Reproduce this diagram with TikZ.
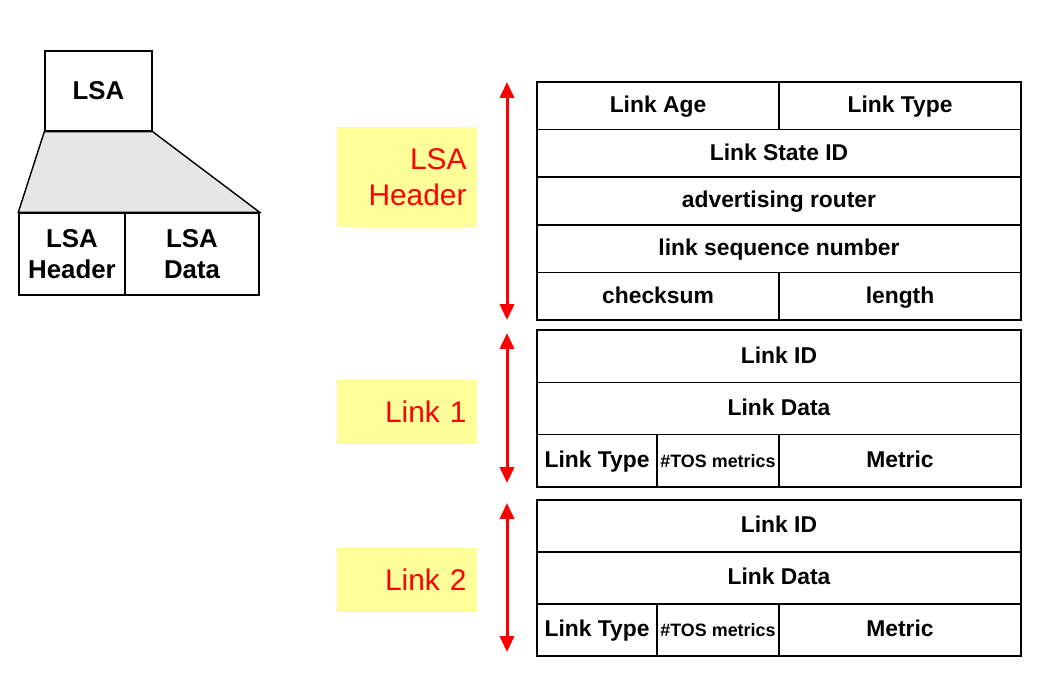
\documentclass[tikz,border=0pt]{standalone}
\usepackage{fontspec}
\setmainfont{Liberation Sans}
\usetikzlibrary{arrows.meta}
\definecolor{lsared}{RGB}{255,0,0}
\definecolor{lsayellow}{RGB}{255,255,153}
\definecolor{lsagray}{RGB}{230,230,230}
\tikzset{
  cell/.style={draw, line width=0.8pt, inner sep=0pt, text height=0.95em, text depth=0.17em, font=\fontsize{13}{15}\selectfont\bfseries},
  bigcell/.style={draw, line width=0.8pt, inner sep=0pt, align=center, font=\fontsize{14.7}{17.6}\selectfont\bfseries},
  tag/.style={fill=lsayellow, text=lsared, align=right, text width=2.38cm, inner xsep=0.21cm, inner ysep=0pt, font=\fontsize{17}{20.5}\selectfont},
  span/.style={draw=lsared, line width=1.7pt, {Triangle[width=8pt,length=9pt]}-{Triangle[width=8pt,length=9pt]}}
}

\begin{document}
\begin{tikzpicture}[x=0.02cm, y=-0.02cm]
  \useasboundingbox (0,0) rectangle (1037,676);

  % LSA split
  \node[bigcell, minimum width=2.14cm, minimum height=1.6cm] (lsa) at (98.5,91) {LSA};
  \node[bigcell, minimum width=2.12cm, minimum height=1.64cm] (lsahdr) at (72,254) {LSA\\Header};
  \node[bigcell, minimum width=2.68cm, minimum height=1.64cm] (lsadata) at (192,254) {LSA\\Data};
  \draw[line width=0.8pt, fill=lsagray] (lsa.south west) -- (lsa.south east)
     -- (lsadata.north east) -- (lsahdr.north west) -- cycle;

  % labels on the left of the table
  \node[tag, minimum height=2.0cm] (taghdr) at (407,177) {LSA\\Header};
  \node[tag, minimum height=1.28cm] (tagone) at (407,412) {Link 1};
  \node[tag, minimum height=1.28cm] (tagtwo) at (407,580) {Link 2};

  % header rows
  \node[cell, minimum width=4.84cm, minimum height=0.952cm] (age) at (658,105.8) {Link Age};
  \node[cell, minimum width=4.84cm, minimum height=0.952cm] (type) at (900,105.8) {Link Type};
  \node[cell, minimum width=9.68cm, minimum height=0.952cm] (lsid) at (779,153.4) {Link State ID};
  \node[cell, minimum width=9.68cm, minimum height=0.952cm] (adv) at (779,201) {advertising router};
  \node[cell, minimum width=9.68cm, minimum height=0.952cm] (seq) at (779,248.6) {link sequence number};
  \node[cell, minimum width=4.84cm, minimum height=0.952cm] (csum) at (658,296.2) {checksum};
  \node[cell, minimum width=4.84cm, minimum height=0.952cm] (len) at (900,296.2) {length};

  % link 1
  \node[cell, minimum width=9.68cm, minimum height=1.047cm] (idone) at (779,356.2) {Link ID};
  \node[cell, minimum width=9.68cm, minimum height=1.047cm] (dataone) at (779,408.5) {Link Data};
  \node[cell, minimum width=2.4cm, minimum height=1.047cm] (typeone) at (597,460.8) {Link Type};
  \node[cell, minimum width=2.44cm, minimum height=1.047cm, font=\fontsize{10.2}{12}\selectfont\bfseries] (tosone) at (718,460.8) {\#TOS metrics};
  \node[cell, minimum width=4.84cm, minimum height=1.047cm] (metone) at (900,460.8) {Metric};

  % link 2
  \node[cell, minimum width=9.68cm, minimum height=1.04cm] (idtwo) at (779,526) {Link ID};
  \node[cell, minimum width=9.68cm, minimum height=1.04cm] (datatwo) at (779,578) {Link Data};
  \node[cell, minimum width=2.4cm, minimum height=1.04cm] (typetwo) at (597,630) {Link Type};
  \node[cell, minimum width=2.44cm, minimum height=1.04cm, font=\fontsize{10.2}{12}\selectfont\bfseries] (tostwo) at (718,630) {\#TOS metrics};
  \node[cell, minimum width=4.84cm, minimum height=1.04cm] (mettwo) at (900,630) {Metric};

  % red extents
  \coordinate (hdrtop) at (507,82);
  \coordinate (hdrbot) at (507,320);
  \coordinate (onetop) at (507,333);
  \coordinate (onebot) at (507,483);
  \coordinate (twotop) at (507,503);
  \coordinate (twobot) at (507,652);
  \draw[span] (hdrtop) -- (hdrbot);
  \draw[span] (onetop) -- (onebot);
  \draw[span] (twotop) -- (twobot);
\end{tikzpicture}
\end{document}
